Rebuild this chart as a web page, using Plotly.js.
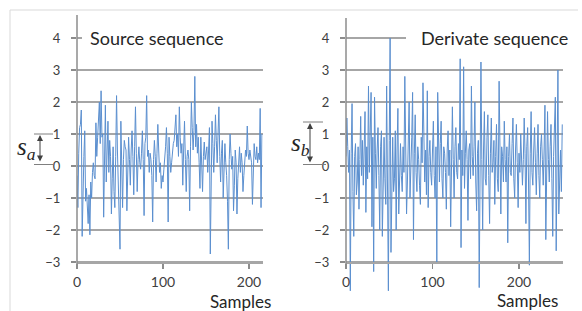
<!DOCTYPE html>
<html>
<head>
<meta charset="utf-8">
<script src="https://cdn.plot.ly/plotly-3.0.1.min.js"></script>
<style>html,body{margin:0;padding:0;background:#fff;}#chart{width:582px;height:311px;}</style>
</head>
<body>
<div id="chart"></div>
<script>
// ---- data ----
const sourceTitle = "Source sequence";
const derivTitle = "Derivate sequence";
const xLabel = "Samples";
const yTicks = [-3, -2, -1, 0, 1, 2, 3, 4];
const xTicks = [0, 100, 200];

const sourceValues = [
  -0.3, -1.3, 0.4, 1.2, 1.3, 1.75, -2.2, -0.6, 0.3, 1.1,
  -1.1, -0.7, -1.2, -1.8, -0.9, -2.15, -0.5, -1.0, -0.2, 0.1,
  -0.3, -0.4, 1.35, 0.3, 0.9, 1.6, 2.0, 0.7, 2.35, 0.9,
  1.0, -1.6, 0.4, 1.9, -0.5, 0.3, 1.4, -0.2, 0.8, 0.3,
  -1.5, -0.4, 0.6, -0.8, -1.3, 0.3, 2.2, 0.5, -0.6, -0.9,
  -2.6, 1.4, -0.4, -1.3, 0.2, 0.8, 0.6, 0.5, -1.4, 0.1,
  0.9, 0.2, -0.6, 0.5, 1.1, 0.3, -0.9, 0.6, 1.85, 0.4,
  -0.8, 0.2, 0.6, 0.1, -0.1, 0.4, 1.1, 0.2, -1.55, 0.7,
  0.9, 2.2, 0.3, 0.5, -0.2, 0.4, 0.2, -0.3, -1.75, 0.2,
  0.8, 0.3, -0.5, 0.4, 1.3, 0.5, -0.2, 0.1, -0.7, -0.3,
  -0.5, -0.1, 0.2, 0.6, 1.2, 0.4, -1.75, 0.9, 0.3, -0.2,
  0.1, 0.5, 0.7, 0.8, 1.1, 1.6, 0.6, 1.0, 0.3, 1.85,
  0.9, 0.4, 0.7, -0.6, 0.5, 1.4, 0.2, -0.8, 0.3, 0.5,
  0.2, -1.4, 0.6, 2.0, 1.2, 0.5, 1.1, 2.8, 0.6, 1.3,
  0.4, 0.9, 0.1, -0.7, 0.9, 0.2, -0.8, 0.3, 0.75, 0.2,
  0.4, 0.6, -0.2, 0.5, 1.2, -2.75, 0.3, 1.4, 0.7, -0.2,
  0.6, 1.6, 0.8, 0.1, 1.0, 1.85, 0.3, -0.5, 0.4, 0.8,
  -1.0, 0.2, 0.7, 0.1, -0.3, -1.1, -2.6, 0.2, 1.0, 0.4,
  -0.1, 0.3, -1.4, -0.6, 0.5, 0.1, -1.5, -0.4, 0.3, 0.6,
  -0.2, 0.4, 0.1, -0.8, -0.3, 0.2, 0.5, 0.3, 1.25, 0.4,
  0.2, 0.5, 0.3, 0.1, -1.2, 0.2, 0.7, 0.3, 0.2, 0.6,
  0.1, 0.4, 0.2, 1.8, -1.3, 1.0
];

const derivValues = [
  0.3, 1.5, 0.6, -0.2, 0.5, -3.9, 0.4, 1.95, -0.8, -2.2,
  0.3, 0.7, -0.9, -0.5, 0.6, -1.35, 0.2, 1.55, -0.3, 0.8,
  -0.6, 0.4, 1.7, -1.45, 0.6, -0.4, 2.5, -0.2, 1.2, 2.3,
  -1.9, 0.9, -3.3, 2.15, 0.4, -0.7, 0.5, 1.2, -0.3, -2.0,
  0.6, 1.1, -2.2, 0.3, 0.9, -0.4, -1.2, 2.5, 0.2, -3.9,
  0.8, 4.0, -2.7, 0.4, 0.9, -0.8, -0.4, 1.1, -2.0, 0.5,
  1.8, -1.5, 0.2, 0.7, -0.3, -0.8, 0.6, -0.2, 2.8, 0.3,
  -1.5, -0.5, 0.8, 2.0, -1.0, -0.3, 0.9, 2.3, -2.3, 0.4,
  1.6, -0.2, -0.8, 0.6, 0.2, -0.6, -1.2, 0.9, 0.1, 2.6,
  0.4, -0.5, 0.5, -0.9, 2.35, -1.3, 0.3, 0.8, -0.2, -0.6,
  0.5, 1.4, -0.3, -1.0, 0.6, -3.05, 2.3, 0.2, -0.5, 0.7,
  1.4, -0.4, -1.0, 0.6, 0.4, -0.2, -1.35, 0.5, 1.1, -0.3,
  0.5, -1.9, 0.4, 1.85, 0.2, -1.0, 0.6, 1.2, -0.2, -0.4,
  0.7, 0.2, 3.35, -2.55, 0.5, -0.3, 3.1, -0.7, 0.4, 1.1,
  0.2, -1.7, 0.5, 0.7, -0.4, 2.5, 0.3, -0.3, 0.6, 2.0,
  -0.5, -1.4, 0.4, 0.8, -3.8, 0.6, 3.25, 0.2, -2.0, 0.5,
  1.7, -0.4, -0.6, 0.9, 1.6, -0.3, -1.8, 0.4, 1.5, -0.2,
  0.1, 0.8, -1.2, 0.3, 1.3, -0.4, -0.8, 2.65, 0.2, -1.5,
  0.6, 0.3, -0.5, 1.4, 0.2, -0.5, 0.6, -2.4, 0.3, 1.0,
  -0.2, -0.3, 0.7, 1.5, -0.4, -1.0, 0.5, 1.3, 0.1, -1.3,
  0.4, -0.2, 1.0, 0.3, -0.6, 0.2, 1.5, 0.4, -1.8, 0.6,
  1.2, -0.5, -3.1, 0.4, 1.7, -0.2, -0.6, 0.5, 1.2, 0.1,
  -0.9, 0.4, 1.3, -0.3, -1.0, 0.6, 1.0, 0.2, -0.6, 0.5,
  1.9, -2.3, 0.4, 1.7, 0.2, -0.5, 0.6, 1.3, -0.4, -2.2,
  0.3, 1.4, 2.15, -2.65, 0.6, 3.0, -1.5, -0.3, 0.5, -0.8, 1.3
];

const sourceX = sourceValues.map((_, i) => i);
const derivX = derivValues.map((_, i) => i);

// ---- styling / layout ----
const W = 582, H = 311;
const px = v => v / W;
const py = v => 1 - v / H;
const lineColor = '#5b8fcf';
const gridColor = '#a6a6a6';
const axisColor = '#8c8c8c';
const textColor = '#262626';
const tickFontY = {family: 'Lato, sans-serif', size: 13, color: '#404040'};
const tickFontX = {family: 'Lato, sans-serif', size: 14, color: '#404040'};

const traces = [
  {x: sourceX, y: sourceValues, type: 'scatter', mode: 'lines', xaxis: 'x', yaxis: 'y',
   line: {color: lineColor, width: 1}, hoverinfo: 'skip'},
  {x: derivX, y: derivValues, type: 'scatter', mode: 'lines', xaxis: 'x2', yaxis: 'y2',
   line: {color: lineColor, width: 1}, hoverinfo: 'skip'}
];

const yDomain = [py(294), py(14)];
const yRange = [-4.0, 4.75];
const xAxisPos = py(262);

function yAx(anchor) {
  return {domain: yDomain, range: yRange, anchor: anchor, tickmode: 'array', tickvals: yTicks,
    showgrid: true, gridcolor: gridColor, gridwidth: 1.5, zeroline: false, showline: false,
    ticks: 'outside', ticklen: 5, tickcolor: axisColor, tickwidth: 1.5, ticklabelstandoff: 8,
    tickfont: tickFontY, fixedrange: true};
}
function xAx(domain, range) {
  return {domain: domain, range: range, anchor: 'free', position: xAxisPos, tickmode: 'array',
    tickvals: xTicks, showgrid: false, zeroline: false, showline: true, linecolor: gridColor,
    linewidth: 1.5, ticks: 'outside', ticklen: 5, tickcolor: axisColor, tickwidth: 1.5,
    ticklabelstandoff: 2, tickfont: tickFontX, fixedrange: true};
}

const layout = {
  width: W, height: H,
  margin: {l: 0, r: 0, t: 0, b: 0},
  paper_bgcolor: '#ffffff', plot_bgcolor: 'rgba(0,0,0,0)',
  showlegend: false,
  xaxis: xAx([px(77), px(77 + 216 * 0.86)], [0, 216]),
  yaxis: yAx('x'),
  xaxis2: xAx([px(346), px(346 + 251 * 0.865)], [0, 251]),
  yaxis2: yAx('x2'),
  shapes: [
    // outer frame
    {type: 'line', xref: 'paper', yref: 'paper', x0: px(10), x1: px(578), y0: py(10), y1: py(10), line: {color: '#d9d9d9', width: 1}},
    {type: 'line', xref: 'paper', yref: 'paper', x0: px(10), x1: px(10), y0: py(10), y1: 0, line: {color: '#d9d9d9', width: 1}},
    // vertical axis lines
    {type: 'line', xref: 'x domain', yref: 'paper', x0: 0, x1: 0, y0: py(267), y1: py(15), line: {color: axisColor, width: 1.5}},
    {type: 'line', xref: 'x2 domain', yref: 'paper', x0: 0, x1: 0, y0: py(267), y1: py(18), line: {color: axisColor, width: 1.5}},
    // title backgrounds covering gridlines
    {type: 'rect', xref: 'paper', yref: 'paper', x0: px(82), x1: px(268), y0: py(46), y1: py(28), fillcolor: '#ffffff', line: {width: 0}, layer: 'above'},
    {type: 'rect', xref: 'paper', yref: 'paper', x0: px(406), x1: px(570), y0: py(46), y1: py(28), fillcolor: '#ffffff', line: {width: 0}, layer: 'above'},
    // s_a bars
    {type: 'line', xref: 'paper', yref: 'paper', x0: px(34), x1: px(53), y0: py(134), y1: py(134), line: {color: '#7f7f7f', width: 1}},
    {type: 'line', xref: 'paper', yref: 'paper', x0: px(34), x1: px(53), y0: py(164.5), y1: py(164.5), line: {color: '#7f7f7f', width: 1}},
    // s_b bars
    {type: 'line', xref: 'paper', yref: 'paper', x0: px(303), x1: px(323), y0: py(122), y1: py(122), line: {color: '#7f7f7f', width: 1}},
    {type: 'line', xref: 'paper', yref: 'paper', x0: px(303), x1: px(326), y0: py(164.5), y1: py(164.5), line: {color: '#7f7f7f', width: 1}}
  ],
  annotations: [
    {text: sourceTitle, xref: 'paper', yref: 'paper', x: px(88), y: py(38), xanchor: 'left', yanchor: 'middle', showarrow: false,
     font: {family: 'Lato, sans-serif', size: 18, color: textColor}},
    {text: derivTitle, xref: 'paper', yref: 'paper', x: px(419), y: py(38), xanchor: 'left', yanchor: 'middle', showarrow: false,
     font: {family: 'Lato, sans-serif', size: 18, color: textColor}},
    {text: xLabel, xref: 'paper', yref: 'paper', x: px(240), y: py(301), xanchor: 'center', yanchor: 'middle', showarrow: false,
     font: {family: 'Lato, sans-serif', size: 17, color: textColor}},
    {text: xLabel, xref: 'paper', yref: 'paper', x: px(527), y: py(300), xanchor: 'center', yanchor: 'middle', showarrow: false,
     font: {family: 'Lato, sans-serif', size: 17, color: textColor}},
    {text: '<i>s</i><sub><i>a</i></sub>', xref: 'paper', yref: 'paper', x: px(15), y: py(148), xanchor: 'left', yanchor: 'middle', showarrow: false,
     font: {family: 'Liberation Serif, serif', size: 25, color: textColor}},
    {text: '<i>s</i><sub><i>b</i></sub>', xref: 'paper', yref: 'paper', x: px(289), y: py(144), xanchor: 'left', yanchor: 'middle', showarrow: false,
     font: {family: 'Liberation Serif, serif', size: 25, color: textColor}},
    {text: '', xref: 'paper', yref: 'paper', x: px(40), y: py(135), ax: 0, ay: 28, axref: 'pixel', ayref: 'pixel',
     showarrow: true, arrowside: 'end+start', arrowhead: 2, arrowsize: 1.2, arrowwidth: 1, arrowcolor: '#404040', standoff: 0, startstandoff: 0},
    {text: '', xref: 'paper', yref: 'paper', x: px(310), y: py(123), ax: 0, ay: 41, axref: 'pixel', ayref: 'pixel',
     showarrow: true, arrowside: 'end+start', arrowhead: 2, arrowsize: 1.2, arrowwidth: 1, arrowcolor: '#404040', standoff: 0, startstandoff: 0}
  ]
};

Plotly.newPlot('chart', traces, layout, {staticPlot: true, displayModeBar: false});
</script>
</body>
</html>
